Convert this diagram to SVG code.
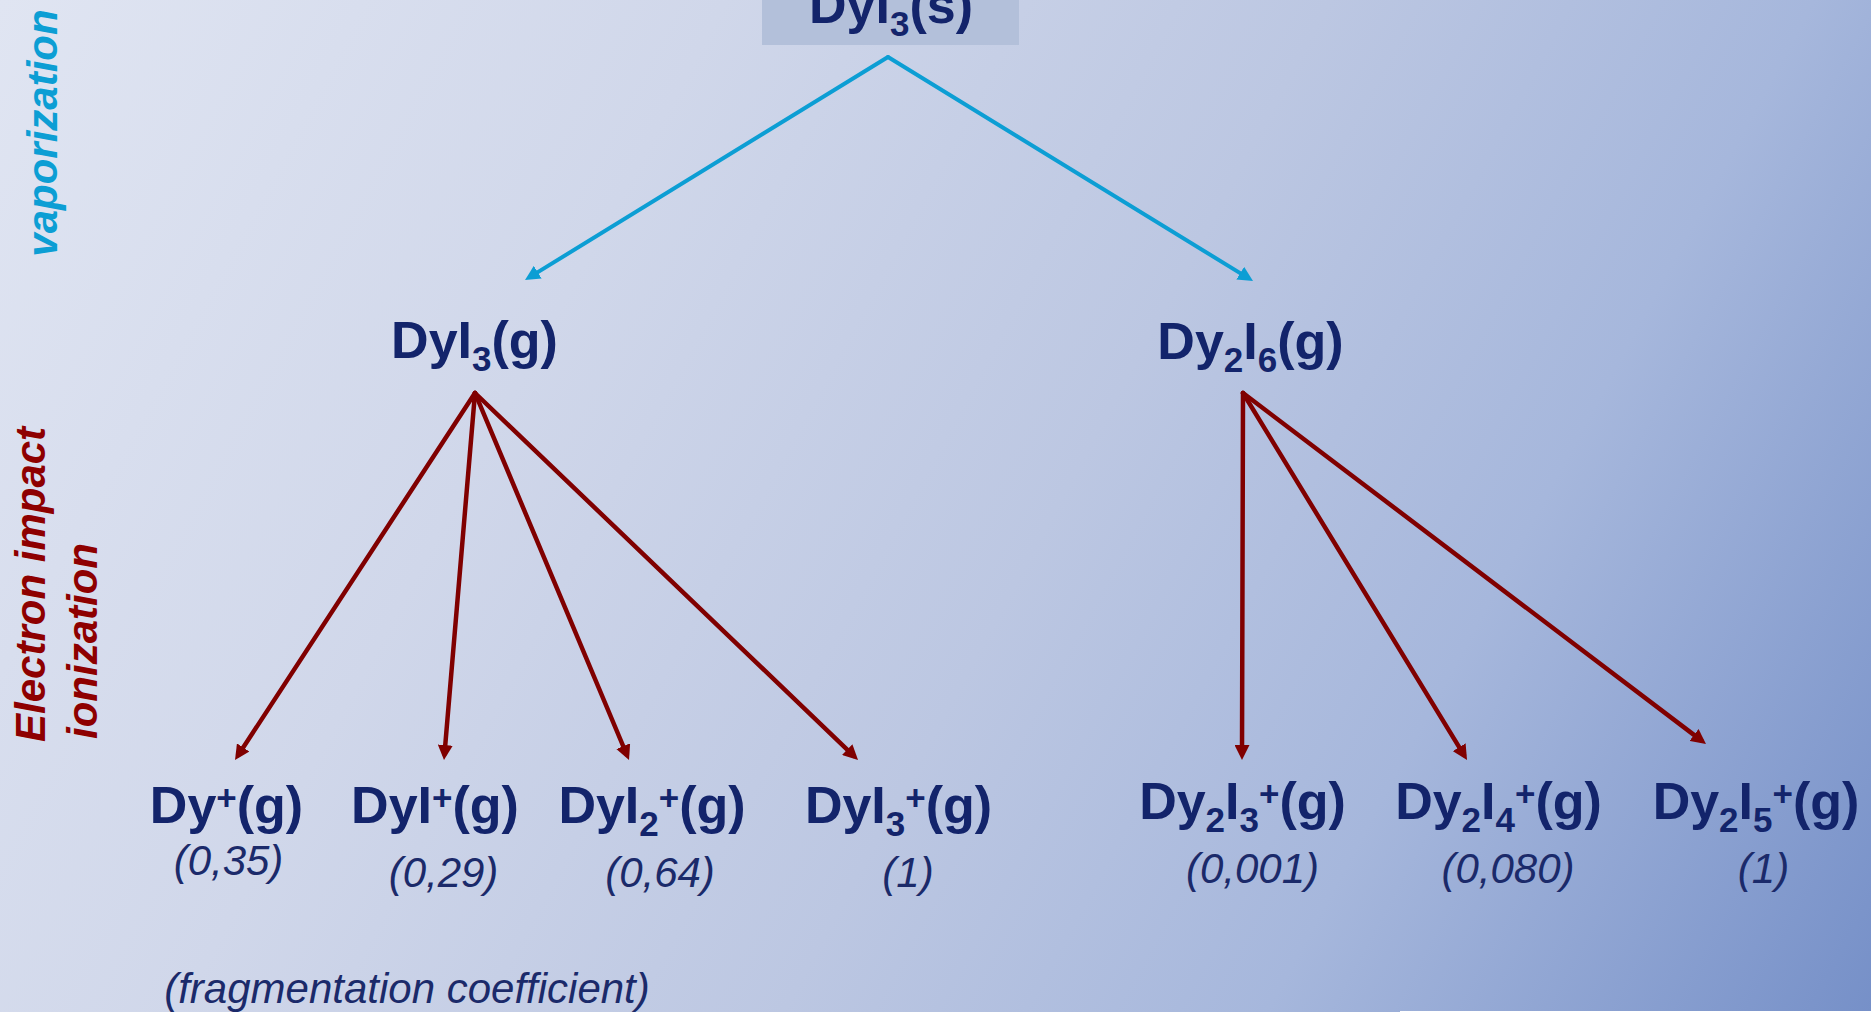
<svg xmlns="http://www.w3.org/2000/svg" width="1871" height="1012" viewBox="0 0 1871 1012">
<defs>
<linearGradient id="bg" gradientUnits="userSpaceOnUse" x1="0" y1="0" x2="1871" y2="1012">
<stop offset="0" stop-color="#e0e5f2"/>
<stop offset="0.3" stop-color="#d0d7ea"/>
<stop offset="0.55" stop-color="#bcc7e2"/>
<stop offset="0.75" stop-color="#a6b7dc"/>
<stop offset="1" stop-color="#7690c8"/>
</linearGradient>
<marker id="ab" viewBox="0 0 10 10" refX="6" refY="5" markerWidth="15" markerHeight="15" markerUnits="userSpaceOnUse" orient="auto">
<path d="M0,0 L10,5 L0,10 z" fill="#0c9ed4"/>
</marker>
<marker id="ar" viewBox="0 0 10 10" refX="6" refY="5" markerWidth="15" markerHeight="15" markerUnits="userSpaceOnUse" orient="auto">
<path d="M0,0 L10,5 L0,10 z" fill="#800000"/>
</marker>
</defs>
<style>
text{font-family:"Liberation Sans",Arial,sans-serif}
.n{font-size:52px;font-weight:bold;fill:#13246b;text-anchor:middle}
.s{font-size:35px}
.c{font-size:42px;font-style:italic;fill:#1b2a6a;text-anchor:middle}
.side{font-size:42px;font-weight:bold;font-style:italic}
.blue{stroke:#0c9ed4;stroke-width:4;fill:none;stroke-linecap:round;marker-end:url(#ab)}
.red{stroke:#800000;stroke-width:4.5;fill:none;stroke-linecap:round;marker-end:url(#ar)}
</style>
<rect x="0" y="0" width="1871" height="1012" fill="url(#bg)"/>
<rect x="1400" y="1011" width="471" height="1" fill="#ffffff"/>

<g id="labels">
<text class="side" fill="#0c9ed4" transform="translate(57,133) rotate(-90)" text-anchor="middle">vaporization</text>
<text class="side" fill="#8e0000" transform="translate(45,742) rotate(-90)">Electron impact</text>
<text class="side" fill="#8e0000" transform="translate(97,739) rotate(-90)">ionization</text>
<text class="c" x="407" y="1003">(fragmentation coefficient)</text>
</g>

<g id="connectors">
<line class="blue" x1="888" y1="57" x2="530.1" y2="276.9"/>
<line class="blue" x1="888" y1="57" x2="1247.9" y2="277.9"/>
<line class="red" x1="475" y1="393" x2="238.3" y2="755"/>
<line class="red" x1="475" y1="393" x2="444.5" y2="754"/>
<line class="red" x1="475" y1="393" x2="626.7" y2="754.5"/>
<line class="red" x1="475" y1="393" x2="853.7" y2="755.8"/>
<line class="red" x1="1243" y1="393" x2="1242" y2="754"/>
<line class="red" x1="1243" y1="393" x2="1463.9" y2="754.9"/>
<line class="red" x1="1243" y1="393" x2="1701.2" y2="740.4"/>
</g>

<g id="node-DyI3s">
<rect x="762" y="0" width="257" height="45" fill="#b3c0da"/>
<text class="n" x="891" y="23">DyI<tspan class="s" dy="13">3</tspan><tspan dy="-13">(s)</tspan></text>
</g>
<g id="node-DyI3g">
<text class="n" x="474.5" y="358">DyI<tspan class="s" dy="13">3</tspan><tspan dy="-13">(g)</tspan></text>
</g>
<g id="node-Dy2I6g">
<text class="n" x="1250.5" y="359">Dy<tspan class="s" dy="13">2</tspan><tspan dy="-13">I</tspan><tspan class="s" dy="13">6</tspan><tspan dy="-13">(g)</tspan></text>
</g>

<g id="node-Dyp">
<text class="n" x="226.5" y="823">Dy<tspan class="s" dy="-13">+</tspan><tspan dy="13">(g)</tspan></text>
<text class="c" x="228.5" y="875">(0,35)</text>
</g>
<g id="node-DyIp">
<text class="n" x="435" y="823">DyI<tspan class="s" dy="-13">+</tspan><tspan dy="13">(g)</tspan></text>
<text class="c" x="443.5" y="887">(0,29)</text>
</g>
<g id="node-DyI2p">
<text class="n" x="652" y="823">DyI<tspan class="s" dy="13">2</tspan><tspan class="s" dy="-26">+</tspan><tspan dy="13">(g)</tspan></text>
<text class="c" x="660" y="887">(0,64)</text>
</g>
<g id="node-DyI3p">
<text class="n" x="898.5" y="823">DyI<tspan class="s" dy="13">3</tspan><tspan class="s" dy="-26">+</tspan><tspan dy="13">(g)</tspan></text>
<text class="c" x="908" y="887">(1)</text>
</g>

<g id="node-Dy2I3p">
<text class="n" x="1242.5" y="819">Dy<tspan class="s" dy="13">2</tspan><tspan dy="-13">I</tspan><tspan class="s" dy="13">3</tspan><tspan class="s" dy="-26">+</tspan><tspan dy="13">(g)</tspan></text>
<text class="c" x="1252.5" y="883">(0,001)</text>
</g>
<g id="node-Dy2I4p">
<text class="n" x="1498.5" y="819">Dy<tspan class="s" dy="13">2</tspan><tspan dy="-13">I</tspan><tspan class="s" dy="13">4</tspan><tspan class="s" dy="-26">+</tspan><tspan dy="13">(g)</tspan></text>
<text class="c" x="1508" y="883">(0,080)</text>
</g>
<g id="node-Dy2I5p">
<text class="n" x="1756" y="819">Dy<tspan class="s" dy="13">2</tspan><tspan dy="-13">I</tspan><tspan class="s" dy="13">5</tspan><tspan class="s" dy="-26">+</tspan><tspan dy="13">(g)</tspan></text>
<text class="c" x="1763.5" y="883">(1)</text>
</g>
</svg>
